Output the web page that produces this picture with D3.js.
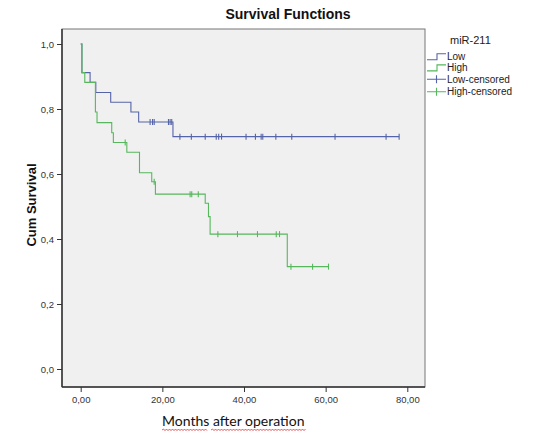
<!DOCTYPE html>
<html><head><meta charset="utf-8">
<script src="https://cdn.jsdelivr.net/npm/d3@7"></script>
<style>body{margin:0;background:#fff}svg{display:block}</style>
</head><body>
<svg id="c" width="552" height="438"></svg>
<script>
// ---- data ----
const groups = ["Low", "High"];
const lowEventTimes = [0.3, 2.3, 3.7, 7.35, 12.3, 14.2, 22.6];
const lowSurvival   = [0.912, 0.882, 0.851, 0.821, 0.791, 0.760, 0.715];
const lowCensored   = [17.0, 17.6, 18.0, 21.5, 21.9, 22.3, 24.3, 27.1, 30.5, 33.2, 33.8, 34.5, 40.5, 42.8, 44.2, 44.6, 47.8, 51.7, 62.3, 74.8, 78.0];
const highEventTimes = [0.3, 1.0, 3.6, 4.0, 7.6, 8.0, 11.3, 14.4, 17.4, 18.3, 30.5, 31.3, 31.7, 50.6];
const highSurvival   = [0.912, 0.882, 0.791, 0.758, 0.727, 0.697, 0.667, 0.604, 0.576, 0.538, 0.510, 0.469, 0.415, 0.315];
const highCensored   = [10.9, 18.0, 26.8, 27.2, 28.8, 33.6, 38.4, 43.3, 47.9, 48.7, 51.5, 56.8, 60.7];
const xTicks = [0, 20, 40, 60, 80];
const yTicks = [0, 0.2, 0.4, 0.6, 0.8, 1.0];
const legendLabels = ["Low", "High", "Low-censored", "High-censored"];

// ---- layout ----
const svg = d3.select("#c");
const plot = {left: 62, right: 425, top: 29, bottom: 387};
const x = d3.scaleLinear().domain([0, 80]).range([80.7, 407.3]);
const y = d3.scaleLinear().domain([0, 1]).range([369, 44]);
const colors = {Low: "#5564a8", High: "#56b75c"};
const fmtX = v => d3.format(".2f")(v).replace(".", ",");
const fmtY = v => d3.format(".1f")(v).replace(".", ",");

svg.append("rect").attr("x", plot.left).attr("y", plot.top)
  .attr("width", plot.right - plot.left).attr("height", plot.bottom - plot.top)
  .attr("fill", "#f0f0f0").attr("stroke", "#777").attr("stroke-width", 1);

// axes
const yAxis = d3.axisLeft(y).tickValues(yTicks).tickFormat(fmtY).tickSize(5).tickPadding(3);
const gy = svg.append("g").attr("transform", `translate(${plot.left},0)`).call(yAxis);
gy.select(".domain").attr("d", `M0,${plot.top}V${plot.bottom}`).attr("stroke", "#333").attr("stroke-width", 1.5);
const xAxis = d3.axisBottom(x).tickValues(xTicks).tickFormat(fmtX).tickSize(5).tickPadding(4);
const gx = svg.append("g").attr("transform", `translate(0,${plot.bottom})`).call(xAxis);
gx.select(".domain").attr("d", `M${plot.left},0H${plot.right}`).attr("stroke", "#333").attr("stroke-width", 1.5);
svg.selectAll(".tick line").attr("stroke", "#333");
svg.selectAll(".tick text").attr("font-family", "Liberation Sans, Arial, sans-serif")
  .attr("font-size", 9.5).attr("fill", "#333");

// curves
function stepData(times, surv, censored) {
  const end = d3.max(censored.concat(times));
  const pts = [[0, 1]];
  times.forEach((t, i) => pts.push([t, surv[i]]));
  pts.push([end, surv[surv.length - 1]]);
  return pts;
}
function survAt(times, surv, t) {
  let s = 1;
  times.forEach((tt, i) => { if (tt <= t) s = surv[i]; });
  return s;
}
const line = d3.line().x(d => x(d[0])).y(d => y(d[1])).curve(d3.curveStepAfter);
const series = [
  {name: "Low", times: lowEventTimes, surv: lowSurvival, cens: lowCensored},
  {name: "High", times: highEventTimes, surv: highSurvival, cens: highCensored}
];
series.forEach(s => {
  svg.append("path").attr("d", line(stepData(s.times, s.surv, s.cens)))
    .attr("fill", "none").attr("stroke", colors[s.name]).attr("stroke-width", 1.1);
  svg.append("g").selectAll("line").data(s.cens).join("line")
    .attr("x1", d => x(d)).attr("x2", d => x(d))
    .attr("y1", d => y(survAt(s.times, s.surv, d)) - 3)
    .attr("y2", d => y(survAt(s.times, s.surv, d)) + 3)
    .attr("stroke", colors[s.name]).attr("stroke-width", 1.1);
});

// title & labels
svg.append("text").attr("x", 288).attr("y", 19).attr("text-anchor", "middle")
  .attr("font-family", "Liberation Sans, Arial, sans-serif").attr("font-weight", "bold")
  .attr("font-size", 14).attr("fill", "#111").text("Survival Functions");
svg.append("text").attr("transform", "translate(36,205) rotate(-90)").attr("text-anchor", "middle")
  .attr("font-family", "Liberation Sans, Arial, sans-serif").attr("font-weight", "bold")
  .attr("font-size", 13).attr("fill", "#111").text("Cum Survival");
svg.append("text").attr("x", 162).attr("y", 426)
  .attr("font-family", "Lato, Open Sans, sans-serif").attr("font-size", 14).attr("fill", "#111")
  .text("Months after operation");
// spell-check squiggles
function squiggle(x0, x1, yy) {
  let d = `M${x0},${yy}`;
  let up = true;
  for (let xx = x0 + 1.5; xx <= x1; xx += 1.5) { d += `L${xx},${yy + (up ? -1 : 0.6)}`; up = !up; }
  return d;
}
[[162, 207], [211, 306]].forEach(([a, b]) => {
  svg.append("path").attr("d", squiggle(a, b, 430)).attr("fill", "none")
    .attr("stroke", "#d33").attr("stroke-width", 0.8);
});

// legend
svg.append("text").attr("x", 450).attr("y", 44).attr("font-family", "Liberation Sans, Arial, sans-serif")
  .attr("font-size", 11).attr("fill", "#222").text("miR-211");
const legY = [56.7, 67.9, 79.3, 91.7];
const legColors = [colors.Low, colors.High, colors.Low, colors.High];
legendLabels.forEach((lab, i) => {
  const g = svg.append("g");
  const yy = legY[i];
  if (i < 2) {
    g.append("path").attr("d", `M427,${yy + 3}H437V${yy - 3}H446`).attr("fill", "none")
      .attr("stroke", legColors[i]).attr("stroke-width", 1.1);
  } else {
    g.append("path").attr("d", `M427,${yy}H446M436.5,${yy - 4}V${yy + 4}`).attr("fill", "none")
      .attr("stroke", legColors[i]).attr("stroke-width", 1.1);
  }
  g.append("text").attr("x", 447).attr("y", yy + 3.5).attr("font-family", "Liberation Sans, Arial, sans-serif")
    .attr("font-size", 10).attr("fill", "#222").text(lab);
});
</script>
</body></html>
